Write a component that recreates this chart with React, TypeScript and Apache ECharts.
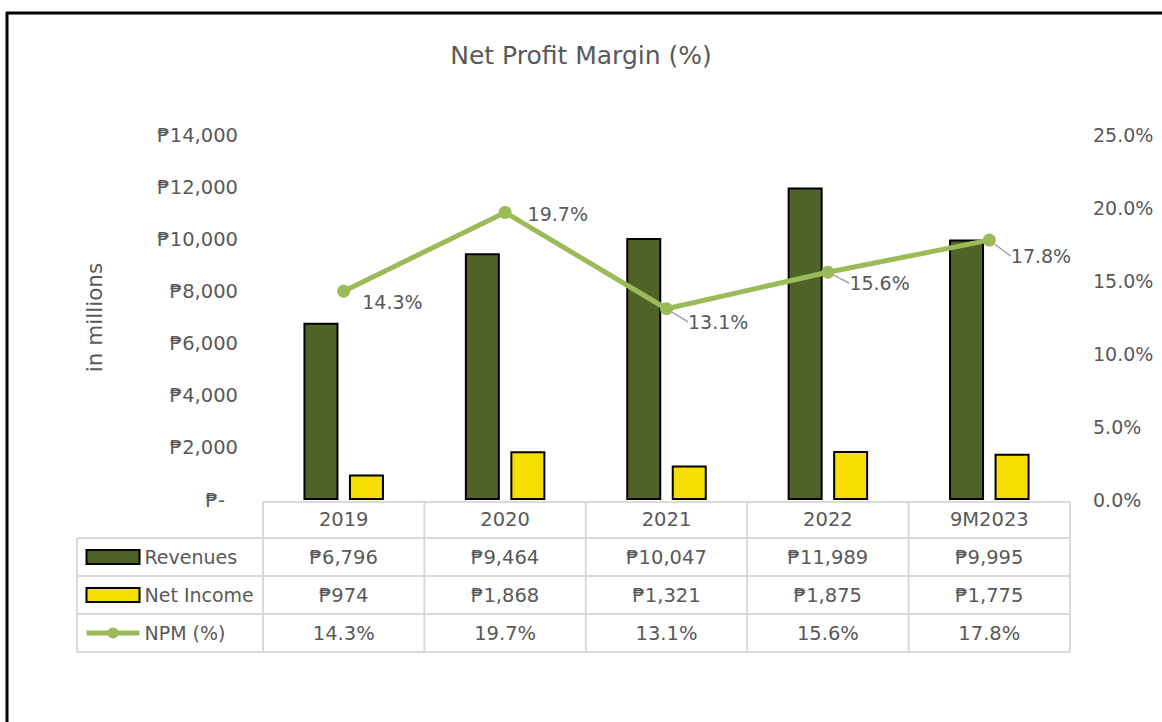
import React, { useEffect, useRef } from "react";
import * as echarts from "echarts";

const categories = ["2019", "2020", "2021", "2022", "9M2023"];
const revenues = [6796, 9464, 10047, 11989, 9995];
const netIncome = [974, 1868, 1321, 1875, 1775];
const npm = [14.3, 19.7, 13.1, 15.6, 17.8];
const leftTicks = { min: 0, max: 14000, interval: 2000 };
const rightTicks = { min: 0, max: 25, interval: 5 };

const FONT = "'DejaVu Sans', 'Noto Sans', sans-serif";
const TXT = "#595959";
const GRIDC = "#D9D9D9";
const FS = 19.5;

const peso = (v: number) => "\u20B1" + v.toLocaleString("en-US");
const pct = (v: number) => v.toFixed(1) + "%";

// label offsets (dx, dy) per point, and whether a leader line is drawn
const labelShift = [
  [7, 11, false],
  [11, 2, false],
  [10, 13, true],
  [10, 11, true],
  [10, 16, true],
];

export default function App() {
  const ref = useRef<HTMLDivElement>(null);
  useEffect(() => {
    if (!ref.current) return;
    const chart = echarts.init(ref.current, undefined, { renderer: "svg" });
    const L = 263, R = 1070, T = 135, B = 500;
    const cellW = (R - L) / categories.length;
    const rowYs = [538, 576, 614, 652];
    const lines: any[] = [];
    const ls = { stroke: GRIDC, lineWidth: 2 };
    lines.push({ type: "line", shape: { x1: L, y1: 502, x2: R, y2: 502 }, style: ls });
    rowYs.forEach((y) => lines.push({ type: "line", shape: { x1: 77, y1: y, x2: R, y2: y }, style: ls }));
    for (let i = 0; i <= categories.length; i++) {
      const x = L + cellW * i;
      lines.push({ type: "line", shape: { x1: x, y1: 502, x2: x, y2: 652 }, style: ls });
    }
    lines.push({ type: "line", shape: { x1: 77, y1: 538, x2: 77, y2: 652 }, style: ls });
    // frame
    lines.push({ type: "line", shape: { x1: 6, y1: 13, x2: 1162, y2: 13 }, style: { stroke: "#000", lineWidth: 3 } });
    lines.push({ type: "line", shape: { x1: 7, y1: 12, x2: 7, y2: 722 }, style: { stroke: "#000", lineWidth: 3 } });

    const rowAxis = (idx: number, data: string[]) => ({
      type: "category",
      gridIndex: 0,
      position: "bottom",
      offset: idx * 38,
      data,
      axisLine: { show: false },
      axisTick: { show: false },
      axisLabel: { color: TXT, fontSize: FS, fontFamily: FONT, margin: 9, interval: 0 },
    });

    chart.setOption({
      animation: false,
      title: {
        text: "Net Profit Margin (%)",
        left: "center",
        top: 38,
        textStyle: { color: TXT, fontSize: 25, fontWeight: "normal", fontFamily: FONT },
      },
      grid: { left: L, right: 1162 - R, top: T, bottom: 722 - B },
      legend: {
        orient: "vertical",
        left: 84,
        top: 546,
        padding: 0,
        itemWidth: 53,
        itemHeight: 14,
        itemGap: 16,
        textStyle: { color: TXT, fontSize: 19, fontFamily: FONT, lineHeight: 22 },
        data: [
          { name: "Revenues", icon: "rect" },
          { name: "Net Income", icon: "rect" },
          { name: "NPM (%)", lineStyle: { width: 5, color: "#9BBB59" } },
        ],
      },
      xAxis: [
        rowAxis(0, categories),
        rowAxis(1, revenues.map(peso)),
        rowAxis(2, netIncome.map(peso)),
        rowAxis(3, npm.map(pct)),
      ],
      yAxis: [
        {
          type: "value",
          ...leftTicks,
          name: "in millions",
          nameLocation: "middle",
          nameRotate: 90,
          nameGap: 158,
          nameTextStyle: { color: TXT, fontSize: 21.5, fontFamily: FONT },
          splitLine: { show: false },
          axisLine: { show: false },
          axisTick: { show: false },
          axisLabel: {
            color: TXT,
            fontSize: FS,
            fontFamily: FONT,
            margin: 25,
            formatter: (v: number) => (v === 0 ? "{z|\u20B1-}" : peso(v)),
            rich: { z: { color: TXT, fontSize: FS, fontFamily: FONT, padding: [0, 13, 0, 0] } },
          },
        },
        {
          type: "value",
          ...rightTicks,
          position: "right",
          splitLine: { show: false },
          axisLine: { show: false },
          axisTick: { show: false },
          axisLabel: {
            color: TXT,
            fontSize: 19,
            fontFamily: FONT,
            margin: 23,
            formatter: pct,
          },
        },
      ],
      series: [
        {
          name: "Revenues",
          type: "bar",
          data: revenues,
          barWidth: 35,
          barGap: "30%",
          itemStyle: { color: "#4F6228", borderColor: "#000", borderWidth: 2 },
        },
        {
          name: "Net Income",
          type: "bar",
          data: netIncome,
          barWidth: 35,
          itemStyle: { color: "#F5DE00", borderColor: "#000", borderWidth: 2 },
        },
        {
          name: "NPM (%)",
          type: "line",
          yAxisIndex: 1,
          data: npm.map((v, i) => ({
            value: v,
            labelLine: { show: labelShift[i][2] as boolean },
          })),
          symbol: "circle",
          symbolSize: 13,
          lineStyle: { color: "#9BBB59", width: 5 },
          itemStyle: { color: "#9BBB59" },
          label: {
            show: true,
            position: "right",
            color: TXT,
            fontSize: 19,
            fontFamily: FONT,
            formatter: (p: any) => pct(p.value),
          },
          labelLine: { show: true, lineStyle: { color: "#A6A6A6", width: 1.5 } },
          labelLayout: (p: any) => ({ dx: labelShift[p.dataIndex][0] as number, dy: labelShift[p.dataIndex][1] as number }),
        },
      ],
      graphic: lines,
    });
    return () => chart.dispose();
  }, []);
  return <div ref={ref} style={{ position: "fixed", left: 0, top: 0, width: 1162, height: 722, background: "#fff" }} />;
}
